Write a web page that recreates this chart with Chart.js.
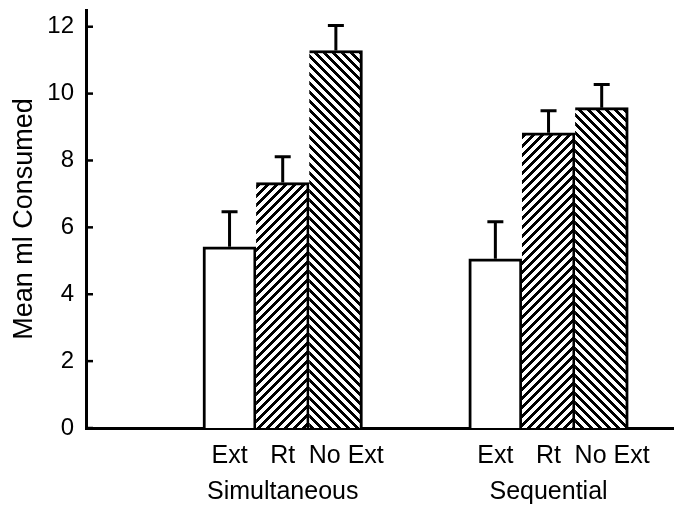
<!DOCTYPE html>
<html>
<head>
<meta charset="utf-8">
<script src="https://cdn.jsdelivr.net/npm/chart.js@4"></script>
<style>
  body { margin: 0; background: #fff; }
</style>
</head>
<body>
<canvas id="chart" width="674" height="506"></canvas>
<script>
// data
const groups = ['Simultaneous', 'Sequential'];
const conditions = ['Ext', 'Rt', 'No Ext'];
const simultaneous = [5.42, 7.34, 11.29];
const sequential = [5.06, 8.83, 9.58];
const simultaneousErr = [1.05, 0.77, 0.75];
const sequentialErr = [1.11, 0.66, 0.69];
const yTicks = [0, 2, 4, 6, 8, 10, 12];

const FONT = "'Liberation Sans', Arial, sans-serif";

// diagonal hatch fill, set pixel by pixel so the tile repeats cleanly
function hatch(dir) {
    const s = 9, w = 4;
    const c = document.createElement('canvas');
    c.width = s; c.height = s;
    const g = c.getContext('2d');
    const img = g.createImageData(s, s);
    for (let y = 0; y < s; y++) {
        for (let x = 0; x < s; x++) {
            const k = dir === '/' ? (x + y) % s : (x - y + s) % s;
            const v = k < w ? 0 : 255;
            const p = (y * s + x) * 4;
            img.data[p] = v; img.data[p + 1] = v; img.data[p + 2] = v; img.data[p + 3] = 255;
        }
    }
    g.putImageData(img, 0, 0);
    return g.createPattern(c, 'repeat');
}
const fills = ['#ffffff', hatch('/'), hatch('\\')];

// one slot per bar, groups separated by an empty gap
const values = [], errors = [], points = [], labels = [], colors = [], borders = [];
[simultaneous, sequential].forEach((vals, g) => {
    vals.forEach((v, i) => {
        const x = g * 5 + i;
        points.push({ x: x, y: v });
        values.push(v);
        errors.push(g === 0 ? simultaneousErr[i] : sequentialErr[i]);
        // "No Ext" sits a little right of its bar in the original
        const name = i === 2 ? '   ' + conditions[i] : conditions[i];
        labels.push(i === 1 ? [name, groups[g]] : name);
        colors.push(fills[i]);
        borders.push({ top: 3, right: 3, bottom: 0, left: i === 0 ? 3 : 0 });
    });
});

const errorBars = {
    id: 'errorBars',
    afterDatasetsDraw(chart) {
        const ctx = chart.ctx;
        const y = chart.scales.y;
        const meta = chart.getDatasetMeta(0);
        ctx.save();
        ctx.strokeStyle = '#000';
        ctx.lineWidth = 3;
        meta.data.forEach((bar, i) => {
            const top = y.getPixelForValue(values[i] + errors[i]);
            ctx.beginPath();
            ctx.moveTo(bar.x, bar.y);
            ctx.lineTo(bar.x, top);
            ctx.moveTo(bar.x - 8, top);
            ctx.lineTo(bar.x + 8, top);
            ctx.stroke();
        });
        // tick marks point into the plot
        const left = chart.chartArea.left;
        ctx.lineWidth = 2.5;
        yTicks.forEach(t => {
            const py = y.getPixelForValue(t);
            ctx.beginPath();
            ctx.moveTo(left, py);
            ctx.lineTo(left + 7, py);
            ctx.stroke();
        });
        ctx.restore();
    }
};

new Chart(document.getElementById('chart'), {
    type: 'bar',
    data: {
        datasets: [{
            data: points,
            backgroundColor: colors,
            borderColor: '#000',
            borderWidth: borders,
            borderSkipped: false,
            barPercentage: 1,
            categoryPercentage: 1
        }]
    },
    options: {
        responsive: false,
        animation: false,
        layout: { padding: { top: 10, right: 0, bottom: 0, left: 0 } },
        plugins: { legend: { display: false }, tooltip: { enabled: false } },
        scales: {
            x: {
                type: 'linear',
                offset: false,
                min: -2.70,
                max: 8.36,
                grid: { display: false, drawTicks: false },
                border: { display: true, color: '#000', width: 3 },
                afterBuildTicks: s => { s.ticks = points.map(p => ({ value: p.x })); },
                afterFit: s => { s.height = 78; s.paddingLeft = 0; s.paddingRight = 0; },
                ticks: {
                    autoSkip: false,
                    maxRotation: 0,
                    padding: 10,
                    color: '#000',
                    font: { family: FONT, size: 25, lineHeight: 1.45 },
                    callback: (v, i) => labels[i]
                }
            },
            y: {
                min: 0,
                max: 12.5,
                grid: { display: false, drawTicks: false },
                border: { display: true, color: '#000', width: 3 },
                afterBuildTicks: s => { s.ticks = yTicks.map(v => ({ value: v })); },
                afterFit: s => { s.width = 86; s.paddingTop = 0; s.paddingBottom = 0; },
                ticks: {
                    padding: 12,
                    color: '#000',
                    font: { family: FONT, size: 24 }
                },
                title: {
                    display: true,
                    text: 'Mean ml Consumed',
                    color: '#000',
                    padding: { top: 8, bottom: 0 },
                    font: { family: FONT, size: 27 }
                }
            }
        }
    },
    plugins: [errorBars]
});
</script>
</body>
</html>
